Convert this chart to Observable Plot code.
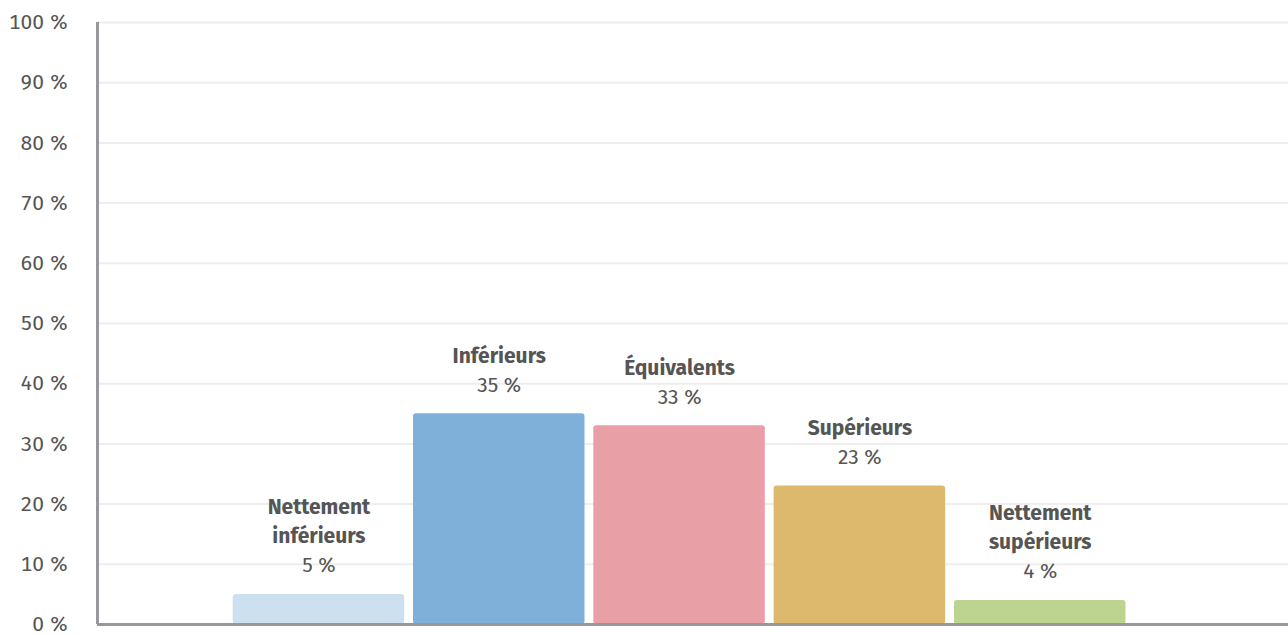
<!DOCTYPE html>
<html>
<head>
<meta charset="utf-8">
<script src="https://cdn.jsdelivr.net/npm/d3@7"></script>
<script src="https://cdn.jsdelivr.net/npm/@observablehq/plot@0.6"></script>
<style>
  html, body { margin: 0; padding: 0; background: #fff; }
  #chart svg { display: block; }
</style>
</head>
<body>
<div id="chart"></div>
<script>
const categories = ["Nettement\ninférieurs", "Inférieurs", "Équivalents", "Supérieurs", "Nettement\nsupérieurs"];
const values = [5, 35, 33, 23, 4];
const colors = ["#cce0f0", "#7fb0da", "#e8a0a6", "#dcb96c", "#bcd48f"];
const yTicks = [0, 10, 20, 30, 40, 50, 60, 70, 80, 90, 100];

const data = categories.map((c, i) => ({ category: c, value: values[i], color: colors[i], i }));
const xDomain = [-0.728, 5.877];
const font = "'Fira Sans', 'Noto Sans', sans-serif";
const textColor = "#555555";

const chart = Plot.plot({
  width: 1288,
  height: 635,
  marginLeft: 97,
  marginRight: 0,
  marginTop: 22,
  marginBottom: 11,
  style: { fontFamily: font, background: "#fff" },
  x: { type: "linear", domain: xDomain, axis: null },
  y: { domain: [0, 100], label: null },
  marks: [
    Plot.gridY(yTicks, { stroke: "#eeeeee", strokeOpacity: 1, strokeWidth: 2 }),
    Plot.axisY(yTicks, {
      tickSize: 0, tickPadding: 29, fontSize: 21, fill: textColor, label: null,
      tickFormat: d => d + " %", fontFamily: font
    }),
    Plot.rectY(data, {
      x1: d => d.i, x2: d => d.i + 1, y1: 0, y2: "value",
      fill: d => d.color, insetLeft: 4.4, insetRight: 4.4, rx: 3
    }),
    Plot.ruleY([0], { stroke: "#98989c", strokeWidth: 3 }),
    Plot.ruleX([xDomain[0]], { stroke: "#98989c", strokeWidth: 3 }),
    Plot.text(data, {
      x: d => d.i + 0.5, y: "value", text: d => d.value + " %",
      dy: -29, fontSize: 21, fill: textColor, fontFamily: font
    }),
    Plot.text(data, {
      x: d => d.i + 0.5, y: "value", text: "category",
      lineAnchor: "bottom", lineHeight: 1.38, dy: -51,
      fontSize: 21, fontWeight: "bold", fill: textColor, fontFamily: font
    })
  ]
});
document.getElementById("chart").appendChild(chart);
</script>
</body>
</html>
